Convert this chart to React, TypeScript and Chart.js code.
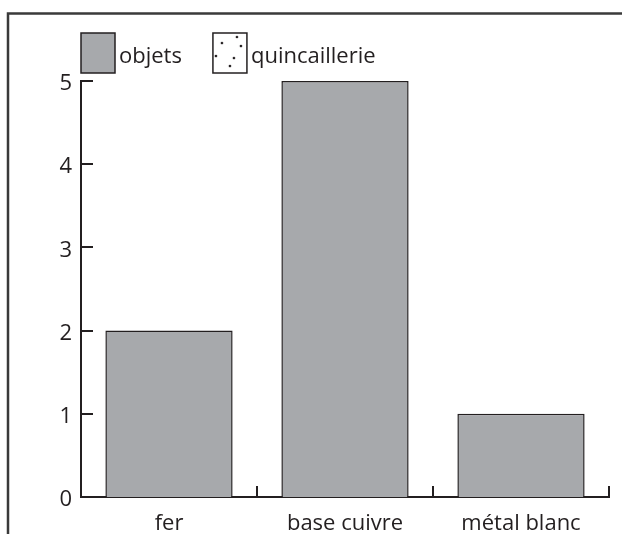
import { useEffect, useRef } from 'react';
import { Chart, registerables } from 'chart.js';

Chart.register(...registerables);

const categories = ['fer', 'base cuivre', 'métal blanc'];
const objets = [2, 5, 1];
const quincaillerie = [0, 0, 0];
const seriesLabels = ['objets', 'quincaillerie'];
const yMin = 0;
const yMax = 5;
const yStep = 1;

const INK = '#231f20';
const GRAY = '#a7a9ac';
const FONT = '"Open Sans", "Noto Sans", sans-serif';
const FONT_SIZE = 22;

// dot positions inside the legend swatch for the stippled series
const stippleDots = [[9, 10], [24, 4], [28, 13], [21, 25], [17, 33], [3, 23]];

function makeStipple(ctx: CanvasRenderingContext2D): CanvasPattern | string {
  const c = document.createElement('canvas');
  c.width = 34;
  c.height = 40;
  const g = c.getContext('2d');
  if (!g) return '#ffffff';
  g.fillStyle = '#ffffff';
  g.fillRect(0, 0, 34, 40);
  g.fillStyle = INK;
  for (const [x, y] of stippleDots) {
    g.beginPath();
    g.arc(x, y, 1.3, 0, Math.PI * 2);
    g.fill();
  }
  return ctx.createPattern(c, 'repeat') || '#ffffff';
}

const framePlugin = {
  id: 'frame',
  beforeDraw(chart: any) {
    const { ctx } = chart;
    ctx.save();
    ctx.strokeStyle = '#3a3a3a';
    ctx.lineWidth = 2.5;
    ctx.beginPath();
    ctx.moveTo(8, chart.height + 10);
    ctx.lineTo(8, 13.5);
    ctx.lineTo(chart.width + 10, 13.5);
    ctx.stroke();
    ctx.restore();
  },
};

const tickMarksPlugin = {
  id: 'tickMarks',
  afterDraw(chart: any) {
    const { ctx } = chart;
    const xs = chart.scales.x;
    const ys = chart.scales.y;
    ctx.save();
    ctx.strokeStyle = INK;
    ctx.lineWidth = 2;
    ctx.lineCap = 'butt';
    // y ticks pointing inward
    for (const t of ys.ticks) {
      if (t.value === yMin) continue;
      const y = Math.round(ys.getPixelForValue(t.value));
      ctx.beginPath();
      ctx.moveTo(xs.left - 1, y);
      ctx.lineTo(xs.left + 12, y);
      ctx.stroke();
    }
    // x ticks at category boundaries pointing upward
    const n = categories.length;
    const bottom = ys.getPixelForValue(yMin);
    for (let i = 1; i <= n; i++) {
      const x = i < n ? (xs.getPixelForValue(i - 1) + xs.getPixelForValue(i)) / 2 : xs.right;
      ctx.beginPath();
      ctx.moveTo(Math.round(x), bottom + 1);
      ctx.lineTo(Math.round(x), bottom - 11);
      ctx.stroke();
    }
    ctx.restore();
  },
};

const legendPlugin = {
  id: 'customLegend',
  afterDraw(chart: any) {
    const { ctx } = chart;
    ctx.save();
    ctx.font = `${FONT_SIZE}px ${FONT}`;
    ctx.textBaseline = 'alphabetic';
    ctx.textAlign = 'left';
    let x = chart.chartArea.left;
    const top = 33;
    const w = 34;
    const h = 40;
    chart.data.datasets.forEach((ds: any) => {
      ctx.save();
      ctx.translate(x, top);
      ctx.fillStyle = ds.legendFill || ds.backgroundColor;
      ctx.fillRect(0, 0, w, h);
      ctx.strokeStyle = INK;
      ctx.lineWidth = 1.5;
      ctx.strokeRect(0, 0, w, h);
      ctx.restore();
      const tx = x + w + 4;
      ctx.fillStyle = INK;
      ctx.fillText(ds.label, tx, 63);
      x = tx + ctx.measureText(ds.label).width + 31;
    });
    ctx.restore();
  },
};

export default function App() {
  const ref = useRef<HTMLCanvasElement | null>(null);

  useEffect(() => {
    document.body.style.margin = '0';
    document.body.style.overflow = 'hidden';
    const canvas = ref.current;
    if (!canvas) return;
    const ctx = canvas.getContext('2d');
    if (!ctx) return;
    const stipple = makeStipple(ctx);

    const chart = new Chart(canvas, {
      type: 'bar',
      data: {
        labels: categories,
        datasets: [
          {
            label: seriesLabels[0],
            data: objets,
            backgroundColor: GRAY,
            borderColor: INK,
            borderWidth: 1.5,
            categoryPercentage: 1,
            barPercentage: 0.723,
          },
          {
            label: seriesLabels[1],
            data: quincaillerie,
            backgroundColor: stipple as any,
            legendFill: stipple,
            borderColor: INK,
            borderWidth: 0,
            categoryPercentage: 1,
            barPercentage: 0.723,
          } as any,
        ],
      },
      options: {
        responsive: false,
        animation: false,
        devicePixelRatio: 1,
        layout: { padding: { top: 81, right: 13, left: 0, bottom: 0 } },
        plugins: {
          legend: { display: false },
          tooltip: { enabled: false },
          title: { display: false },
        },
        scales: {
          x: {
            stacked: true,
            grid: { display: false },
            border: { display: true, color: INK, width: 2 },
            ticks: {
              color: INK,
              font: { family: FONT, size: FONT_SIZE },
              padding: 5.5,
              maxRotation: 0,
            },
            afterFit(scale: any) {
              scale.height = 37;
            },
          },
          y: {
            stacked: true,
            min: yMin,
            max: yMax,
            grid: { display: false, drawTicks: false },
            border: { display: true, color: INK, width: 2 },
            ticks: {
              stepSize: yStep,
              color: INK,
              font: { family: FONT, size: FONT_SIZE },
              padding: 9,
              labelOffset: 3,
            },
            afterFit(scale: any) {
              scale.width = 81;
            },
          },
        },
      },
      plugins: [framePlugin, tickMarksPlugin, legendPlugin],
    });
    return () => chart.destroy();
  }, []);

  return (
    <div style={{ position: 'absolute', left: 0, top: 0, width: 622, height: 534, background: '#fff', overflow: 'hidden' }}>
      <canvas ref={ref} width={622} height={534} style={{ display: 'block' }} />
    </div>
  );
}
